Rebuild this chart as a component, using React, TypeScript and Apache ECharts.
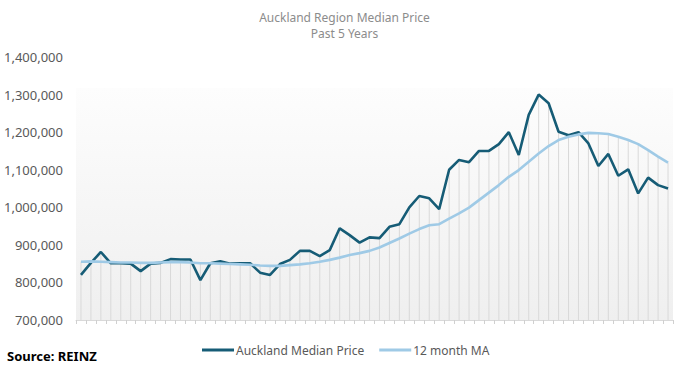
import React, { useEffect, useRef } from "react";
import * as echarts from "echarts";

const months = [
  "Jan 2018","Feb 2018","Mar 2018","Apr 2018","May 2018","Jun 2018","Jul 2018","Aug 2018","Sep 2018","Oct 2018","Nov 2018","Dec 2018",
  "Jan 2019","Feb 2019","Mar 2019","Apr 2019","May 2019","Jun 2019","Jul 2019","Aug 2019","Sep 2019","Oct 2019","Nov 2019","Dec 2019",
  "Jan 2020","Feb 2020","Mar 2020","Apr 2020","May 2020","Jun 2020","Jul 2020","Aug 2020","Sep 2020","Oct 2020","Nov 2020","Dec 2020",
  "Jan 2021","Feb 2021","Mar 2021","Apr 2021","May 2021","Jun 2021","Jul 2021","Aug 2021","Sep 2021","Oct 2021","Nov 2021","Dec 2021",
  "Jan 2022","Feb 2022","Mar 2022","Apr 2022","May 2022","Jun 2022","Jul 2022","Aug 2022","Sep 2022","Oct 2022","Nov 2022","Dec 2022",
];

const medianPrice = [
  820000, 852000, 881000, 851000, 851000, 850000, 830000, 850000, 852000, 862000, 861000, 861000,
  806000, 851000, 856000, 850000, 851000, 851000, 826000, 820000, 849000, 860000, 884000, 884000,
  870000, 886000, 944000, 926000, 906000, 920000, 918000, 948000, 955000, 1000000, 1030000, 1024000,
  995000, 1100000, 1126000, 1120000, 1150000, 1150000, 1168000, 1200000, 1139000, 1246000, 1300000, 1277000,
  1201000, 1192000, 1200000, 1170000, 1110000, 1142000, 1084000, 1101000, 1037000, 1079000, 1059000, 1050000,
];

const movingAverage = [
  855000, 856000, 855000, 854000, 853000, 853000, 852000, 852000, 853000, 854000, 854000, 853000,
  851000, 851000, 850000, 849000, 848000, 847000, 845000, 844000, 844000, 846000, 848000, 851000,
  855000, 860000, 866000, 873000, 878000, 884000, 893000, 905000, 917000, 930000, 942000, 952000,
  955000, 970000, 984000, 999000, 1019000, 1039000, 1059000, 1081000, 1099000, 1121000, 1143000, 1163000,
  1179000, 1188000, 1194000, 1198000, 1197000, 1195000, 1188000, 1179000, 1168000, 1152000, 1135000, 1119000,
];

const yTicks = { min: 700000, max: 1400000, interval: 100000 };

export default function App() {
  const ref = useRef<HTMLDivElement>(null);

  useEffect(() => {
    if (!ref.current) return;
    const chart = echarts.init(ref.current, null, { renderer: "svg" });
    const dropLines = medianPrice.map((v, i) => Math.max(v, movingAverage[i]));
    const font = "Noto Sans";
    chart.setOption({
      animation: false,
      textStyle: { fontFamily: font },
      title: {
        text: "Auckland Region Median Price",
        subtext: "Past 5 Years",
        left: "center",
        top: 6,
        itemGap: 4,
        textStyle: { color: "#8c8c8c", fontSize: 12, fontWeight: "normal", fontFamily: font },
        subtextStyle: { color: "#8c8c8c", fontSize: 12, fontFamily: font },
      },
      legend: {
        data: ["Auckland Median Price", "12 month MA"],
        bottom: 6,
        left: 197,
        itemWidth: 32,
        itemHeight: 3,
        itemGap: 15,
        icon: "rect",
        textStyle: { color: "#595959", fontSize: 12, fontFamily: font, padding: [0, 0, 0, -3] },
      },
      graphic: [
        {
          type: "text",
          left: 7,
          top: 349,
          style: { text: "Source: REINZ", font: `bold 13px ${font}`, fill: "#000" },
        },
      ],
      grid: {
        left: 76,
        right: 16,
        top: 57,
        bottom: 47,
        show: true,
        borderWidth: 0,
        backgroundColor: new echarts.graphic.LinearGradient(0, 0, 0, 1, [
          { offset: 0, color: "#ffffff" },
          { offset: 0.118, color: "#ffffff" },
          { offset: 0.119, color: "#fdfdfd" },
          { offset: 1, color: "#efefef" },
        ]),
      },
      xAxis: {
        type: "category",
        data: months,
        boundaryGap: true,
        axisLine: { lineStyle: { color: "#d9d9d9", width: 1 } },
        axisTick: { show: true, interval: 0, length: 4, lineStyle: { color: "#d0d0d0" } },
        axisLabel: { show: false, interval: 0 },
        splitLine: { show: false },
      },
      yAxis: {
        type: "value",
        min: yTicks.min,
        max: yTicks.max,
        interval: yTicks.interval,
        axisLine: { show: false },
        axisTick: { show: false },
        splitLine: { show: false },
        axisLabel: {
          color: "#595959",
          fontSize: 13,
          fontFamily: font,
          margin: 13,
          formatter: (v: number) => v.toLocaleString("en-US"),
        },
      },
      series: [
        {
          name: "drop",
          type: "bar",
          data: dropLines,
          barWidth: 1,
          itemStyle: { color: "#d9d9d9" },
          silent: true,
          z: 1,
          clip: true,
        },
        {
          name: "Auckland Median Price",
          type: "line",
          data: medianPrice,
          symbol: "none",
          lineStyle: { color: "#165c76", width: 2.6 },
          itemStyle: { color: "#165c76" },
          z: 3,
        },
        {
          name: "12 month MA",
          type: "line",
          data: movingAverage,
          symbol: "none",
          lineStyle: { color: "#9fcae6", width: 2.6 },
          itemStyle: { color: "#9fcae6" },
          z: 4,
        },
      ],
    });
    return () => chart.dispose();
  }, []);

  return <div ref={ref} style={{ width: 689, height: 367, position: "absolute", left: 0, top: 0 }} />;
}
